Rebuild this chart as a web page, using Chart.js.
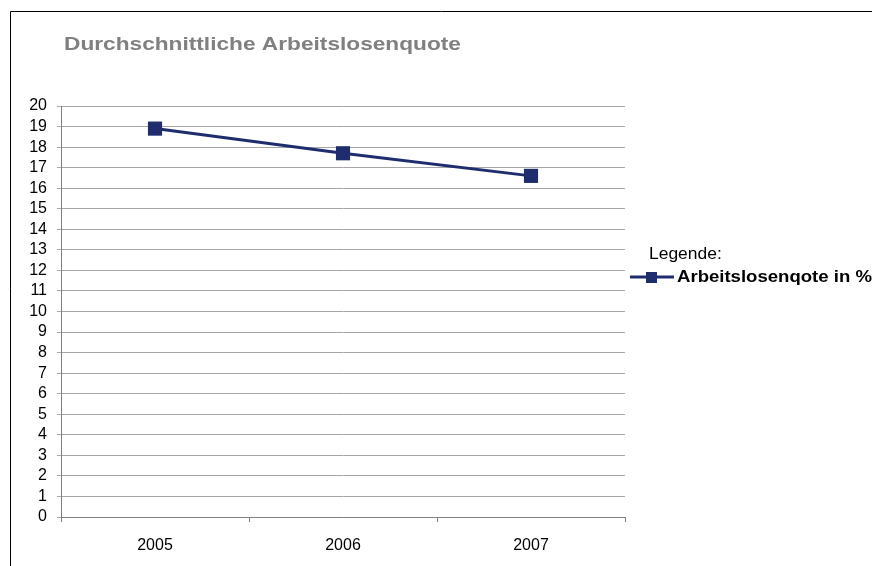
<!DOCTYPE html>
<html>
<head>
<meta charset="utf-8">
<style>
html,body{margin:0;padding:0;background:#fff;}
#wrap{position:relative;width:872px;height:566px;}
canvas{display:block;}
</style>
<script src="https://cdn.jsdelivr.net/npm/chart.js@4/dist/chart.umd.min.js"></script>
</head>
<body>
<div id="wrap"><canvas id="c" width="872" height="566"></canvas></div>
<script>
const chartTitle = "Durchschnittliche Arbeitslosenquote";
const legendTitle = "Legende:";
const seriesName = "Arbeitslosenqote in %";
const categories = ["2005", "2006", "2007"];
const values = [18.9, 17.7, 16.6];
const yMin = 0, yMax = 20, yStep = 1;

const navy = "#1f2d6e";
const FONT = "'Liberation Sans', Arial, sans-serif";

function stretchedText(ctx, text, x, y, sx) {
  ctx.save();
  ctx.translate(x, y);
  ctx.scale(sx, 1);
  ctx.fillText(text, 0, 0);
  ctx.restore();
}

const decor = {
  id: "decor",
  afterDraw(chart) {
    const ctx = chart.ctx;
    ctx.save();
    // frame
    ctx.strokeStyle = "#000";
    ctx.lineWidth = 1;
    ctx.beginPath();
    ctx.moveTo(10.5, 566);
    ctx.lineTo(10.5, 11.5);
    ctx.lineTo(872, 11.5);
    ctx.stroke();
    // title
    ctx.fillStyle = "#808080";
    ctx.font = "bold 18px " + FONT;
    ctx.textBaseline = "middle";
    ctx.textAlign = "left";
    stretchedText(ctx, chartTitle, 64, 45, 1.26);
    // legend
    ctx.fillStyle = "#000";
    ctx.font = "16px " + FONT;
    stretchedText(ctx, legendTitle, 649, 255, 1.09);
    ctx.strokeStyle = navy;
    ctx.lineWidth = 3;
    ctx.beginPath();
    ctx.moveTo(630, 277);
    ctx.lineTo(674, 277);
    ctx.stroke();
    ctx.fillStyle = navy;
    ctx.fillRect(646, 272, 11, 11);
    ctx.fillStyle = "#000";
    ctx.font = "bold 16px " + FONT;
    stretchedText(ctx, seriesName, 677, 278, 1.16);
    ctx.restore();
  }
};

new Chart(document.getElementById("c"), {
  type: "line",
  data: {
    labels: categories,
    datasets: [{
      label: seriesName,
      data: values,
      borderColor: navy,
      backgroundColor: navy,
      borderWidth: 3,
      pointStyle: "rect",
      pointRadius: 10,
      pointHoverRadius: 10,
      pointBackgroundColor: navy,
      pointBorderColor: navy,
      pointBorderWidth: 0,
      tension: 0
    }]
  },
  options: {
    responsive: false,
    animation: false,
    devicePixelRatio: 1,
    events: [],
    layout: { padding: { top: 106, right: 247, left: 0, bottom: 0 } },
    plugins: { legend: { display: false }, title: { display: false }, tooltip: { enabled: false } },
    scales: {
      x: {
        type: "category",
        offset: true,
        grid: { offset: true, drawOnChartArea: false, drawTicks: true, tickLength: 5, color: "#808080" },
        border: { color: "#808080", width: 1 },
        ticks: { color: "#000", font: { family: FONT, size: 16 }, padding: 14 },
        afterFit(s) { s.height = 49; }
      },
      y: {
        min: yMin, max: yMax,
        grid: { color: "#a6a6a6", tickLength: 4, drawTicks: true },
        border: { color: "#808080", width: 1 },
        ticks: { stepSize: yStep, color: "#000", font: { family: FONT, size: 16 }, padding: 10, autoSkip: false },
        afterFit(s) { s.width = 61; }
      }
    }
  },
  plugins: [decor]
});
</script>
</body>
</html>
